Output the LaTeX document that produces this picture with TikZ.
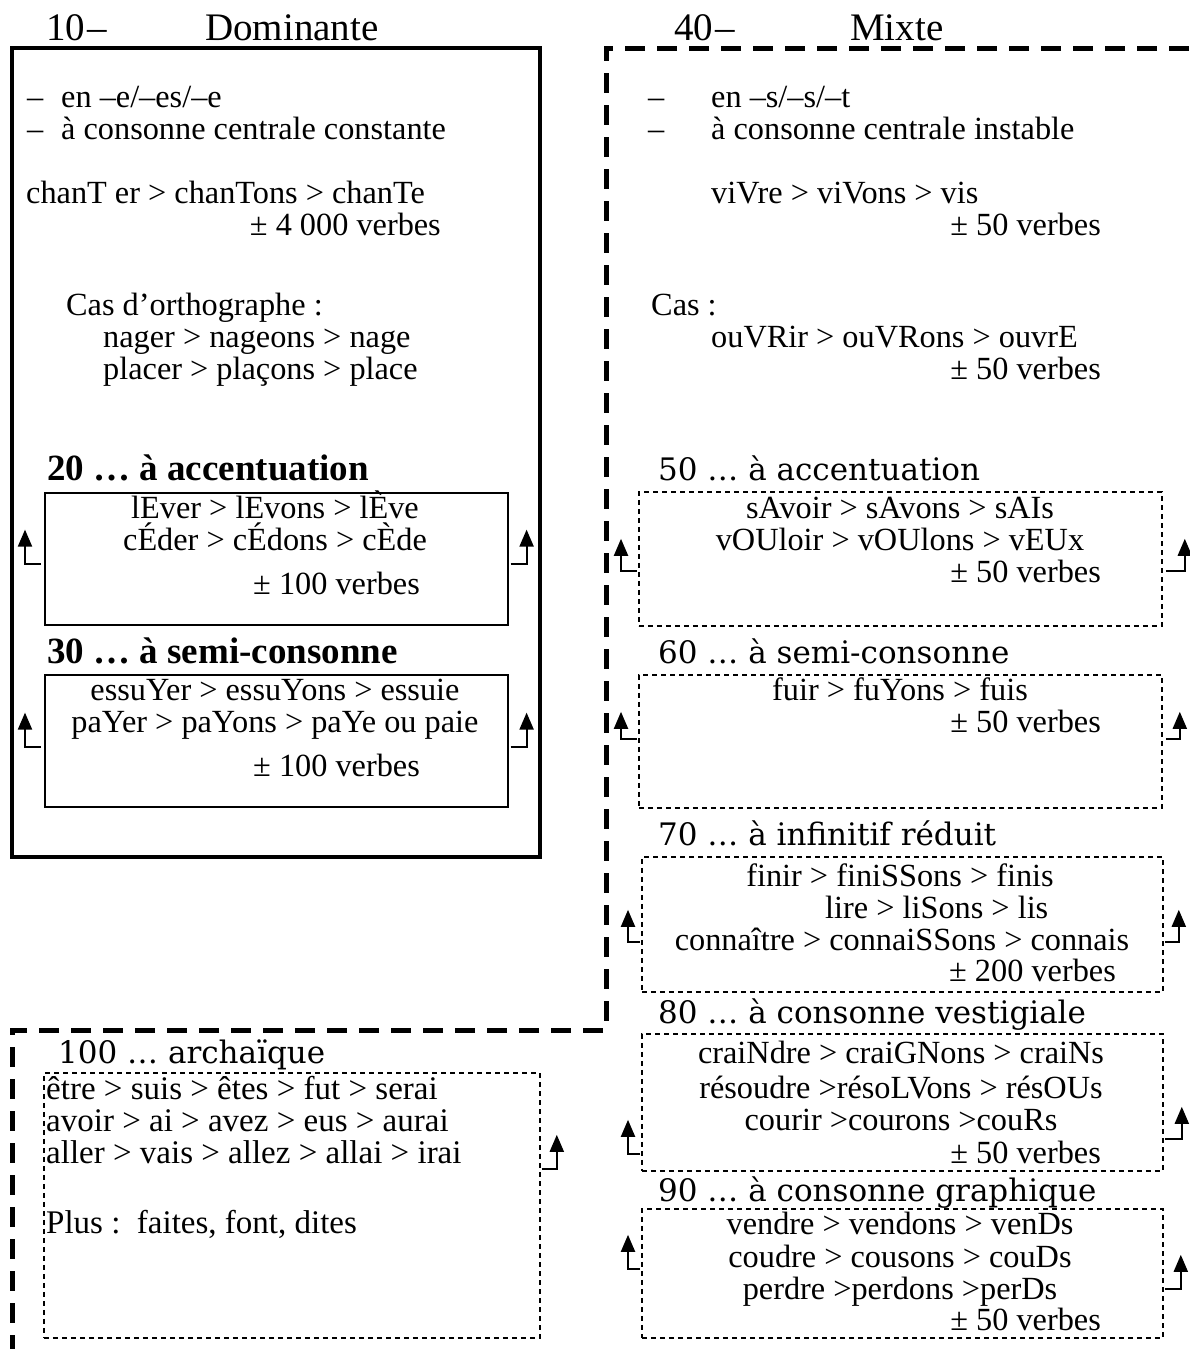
\documentclass[tikz,border=0pt]{standalone}
\usepackage{fontspec}
\setmainfont{Liberation Serif}
\newfontfamily\hfont{DejaVu Serif}
\usetikzlibrary{arrows.meta}
\begin{document}
\begin{tikzpicture}[x=1pt,y=-1pt,
  txt/.style={inner sep=0pt, font=\fontsize{32.3}{32}\selectfont},
  txtb/.style={inner sep=0pt, font=\fontsize{33}{32}\selectfont},
  hd/.style={inner sep=0pt, font=\fontsize{39}{40}\selectfont},
  hb/.style={inner sep=0pt, font=\bfseries\fontsize{37}{38}\selectfont},
  hc/.style={inner sep=0pt, font=\hfont\fontsize{31}{32}\selectfont},
  solidbox/.style={draw, line width=1.6pt, inner sep=0pt, anchor=north west},
  dotbox/.style={draw, line width=1.8pt, dash pattern=on 5pt off 4pt, inner sep=0pt, anchor=north west},
  bigdash/.style={line width=5pt, dash pattern=on 20pt off 12pt},
  arr/.style={line width=2pt, -{Triangle[length=17pt,width=14pt]}}
]
\useasboundingbox (0,0) rectangle (1189,1349);
\fill[white] (0,0) rectangle (1189,1349);

% frames
\draw[line width=4pt] (12,48) rectangle (540,857);
\draw[bigdash] (1189,48) -- (606,48) -- (606,1030) -- (12,1030) -- (12,1349);

% main headings
\node[hd, anchor=base west] (h10) at (46,40) {10\kern2pt–};
\node[hd, anchor=base west] (hdom) at (205,40) {Dominante};
\node[hd, anchor=base west] (h40) at (674,40) {40\kern2pt–};
\node[hd, anchor=base west] (hmix) at (850,40) {Mixte};

% left column text
\node[txt, anchor=base west] (ld1) at (27,107) {–};
\node[txt, anchor=base west] (l1) at (61,107) {en –e/–es/–e};
\node[txt, anchor=base west] (ld2) at (27,139) {–};
\node[txt, anchor=base west] (l2) at (61,139) {à consonne centrale constante};
\node[txt, anchor=base west] (l3) at (26,203) {chanT er > chanTons > chanTe};
\node[txt, anchor=base east] (l4) at (441,235) {± 4 000 verbes};
\node[txt, anchor=base west] (l5) at (66,315) {Cas d’orthographe :};
\node[txt, anchor=base west] (l6) at (103,347) {nager > nageons > nage};
\node[txt, anchor=base west] (l7) at (103,379) {placer > plaçons > place};

% right column text
\node[txt, anchor=base west] (rd1) at (648,107) {–};
\node[txt, anchor=base west] (r1) at (711,107) {en –s/–s/–t};
\node[txt, anchor=base west] (rd2) at (648,139) {–};
\node[txt, anchor=base west] (r2) at (711,139) {à consonne centrale instable};
\node[txt, anchor=base west] (r3) at (711,203) {viVre > viVons > vis};
\node[txt, anchor=base east] (r4) at (1101,235) {± 50 verbes};
\node[txt, anchor=base west] (r5) at (651,315) {Cas :};
\node[txt, anchor=base west] (r6) at (711,347) {ouVRir > ouVRons > ouvrE};
\node[txt, anchor=base east] (r7) at (1101,379) {± 50 verbes};

% sub headings
\node[hb, anchor=base west] (h20) at (47,480) {20 … à accentuation};
\node[hb, anchor=base west] (h30) at (47,663) {30 … à semi-consonne};
\node[hc, anchor=base west] (h50) at (658,480) {50 … à accentuation};
\node[hc, anchor=base west] (h60) at (658,663) {60 … à semi-consonne};
\node[hc, anchor=base west] (h70) at (658,845) {70 … à infinitif réduit};
\node[hc, anchor=base west] (h80) at (658,1023) {80 … à consonne vestigiale};
\node[hc, anchor=base west] (h90) at (658,1201) {90 … à consonne graphique};
\node[hc, anchor=base west] (h100) at (58,1063) {100 … archaïque};

% boxes
\node[solidbox, minimum width=463pt, minimum height=132pt] (b20) at (44,492) {};
\node[solidbox, minimum width=463pt, minimum height=132pt] (b30) at (44,674) {};
\node[dotbox, minimum width=523pt, minimum height=134pt] (b50) at (638,491) {};
\node[dotbox, minimum width=523pt, minimum height=133pt] (b60) at (638,674) {};
\node[dotbox, minimum width=521pt, minimum height=135pt] (b70) at (641,856) {};
\node[dotbox, minimum width=521pt, minimum height=137pt] (b80) at (641,1033) {};
\node[dotbox, minimum width=521pt, minimum height=129pt] (b90) at (641,1208) {};
\node[dotbox, minimum width=496pt, minimum height=265pt] (b100) at (43,1072) {};

% box texts
\node[txt, anchor=base] (t20a) at (275,518) {lEver > lEvons > lÈve};
\node[txt, anchor=base] (t20b) at (275,550) {cÉder > cÉdons > cÈde};
\node[txt, anchor=base west] (t20c) at (253,594) {± 100 verbes};

\node[txt, anchor=base] (t30a) at (275,700) {essuYer > essuYons > essuie};
\node[txt, anchor=base] (t30b) at (275,732) {paYer > paYons > paYe ou paie};
\node[txt, anchor=base west] (t30c) at (253,776) {± 100 verbes};

\node[txt, anchor=base] (t50a) at (900,518) {sAvoir > sAvons > sAIs};
\node[txt, anchor=base] (t50b) at (900,550) {vOUloir > vOUlons > vEUx};
\node[txt, anchor=base east] (t50c) at (1101,582) {± 50 verbes};

\node[txt, anchor=base] (t60a) at (900,700) {fuir > fuYons > fuis};
\node[txt, anchor=base east] (t60b) at (1101,732) {± 50 verbes};

\node[txt, anchor=base] (t70a) at (900,886) {finir > finiSSons > finis};
\node[txt, anchor=base west] (t70b) at (825,918) {lire > liSons > lis};
\node[txt, anchor=base] (t70c) at (902,950) {connaître > connaiSSons > connais};
\node[txt, anchor=base east] (t70d) at (1116,981) {± 200 verbes};

\node[txt, anchor=base] (t80a) at (901,1063) {craiNdre > craiGNons > craiNs};
\node[txt, anchor=base] (t80b) at (901,1098) {résoudre >résoLVons > résOUs};
\node[txt, anchor=base] (t80c) at (901,1130) {courir >courons >couRs};
\node[txt, anchor=base east] (t80d) at (1101,1163) {± 50 verbes};

\node[txt, anchor=base] (t90a) at (900,1234) {vendre > vendons > venDs};
\node[txt, anchor=base] (t90b) at (900,1267) {coudre > cousons > couDs};
\node[txt, anchor=base] (t90c) at (900,1299) {perdre >perdons >perDs};
\node[txt, anchor=base east] (t90d) at (1101,1330) {± 50 verbes};

\node[txtb, anchor=base west] (t100a) at (46,1099) {être > suis > êtes > fut > serai};
\node[txtb, anchor=base west] (t100b) at (46,1131) {avoir > ai > avez > eus > aurai};
\node[txtb, anchor=base west] (t100c) at (46,1163) {aller > vais > allez > allai > irai};
\node[txtb, anchor=base west] (t100d) at (46,1233) {Plus :\ \ faites, font, dites};

% arrows
\draw[arr] ([xshift=-3pt,yshift=62pt]b20.south west) -- ++(-16,0) -- ++(0,-34);
\draw[arr] ([xshift=2pt,yshift=62pt]b20.south east) -- ++(16,0) -- ++(0,-34);
\draw[arr] ([xshift=-3pt,yshift=61pt]b30.south west) -- ++(-16,0) -- ++(0,-34);
\draw[arr] ([xshift=2pt,yshift=61pt]b30.south east) -- ++(16,0) -- ++(0,-34);
\draw[arr] ([xshift=-1pt,yshift=56pt]b50.south west) -- ++(-16,0) -- ++(0,-32);
\draw[arr] ([xshift=3pt,yshift=56pt]b50.south east) -- ++(19,0) -- ++(0,-32);
\draw[arr] ([xshift=-1pt,yshift=70pt]b60.south west) -- ++(-16,0) -- ++(0,-27);
\draw[arr] ([xshift=3pt,yshift=70pt]b60.south east) -- ++(14,0) -- ++(0,-27);
\draw[arr] ([xshift=-1pt,yshift=51pt]b70.south west) -- ++(-12,0) -- ++(0,-32);
\draw[arr] ([xshift=1pt,yshift=51pt]b70.south east) -- ++(14,0) -- ++(0,-32);
\draw[arr] ([xshift=-1pt,yshift=18pt]b80.south west) -- ++(-12,0) -- ++(0,-34);
\draw[arr] ([xshift=1pt,yshift=33pt]b80.south east) -- ++(17,0) -- ++(0,-32);
\draw[arr] ([xshift=-1pt,yshift=70pt]b90.south west) -- ++(-12,0) -- ++(0,-34);
\draw[arr] ([xshift=1pt,yshift=50pt]b90.south east) -- ++(16,0) -- ++(0,-34);
\draw[arr] ([xshift=1pt,yshift=170pt]b100.south east) -- ++(15,0) -- ++(0,-34);
\end{tikzpicture}
\end{document}
